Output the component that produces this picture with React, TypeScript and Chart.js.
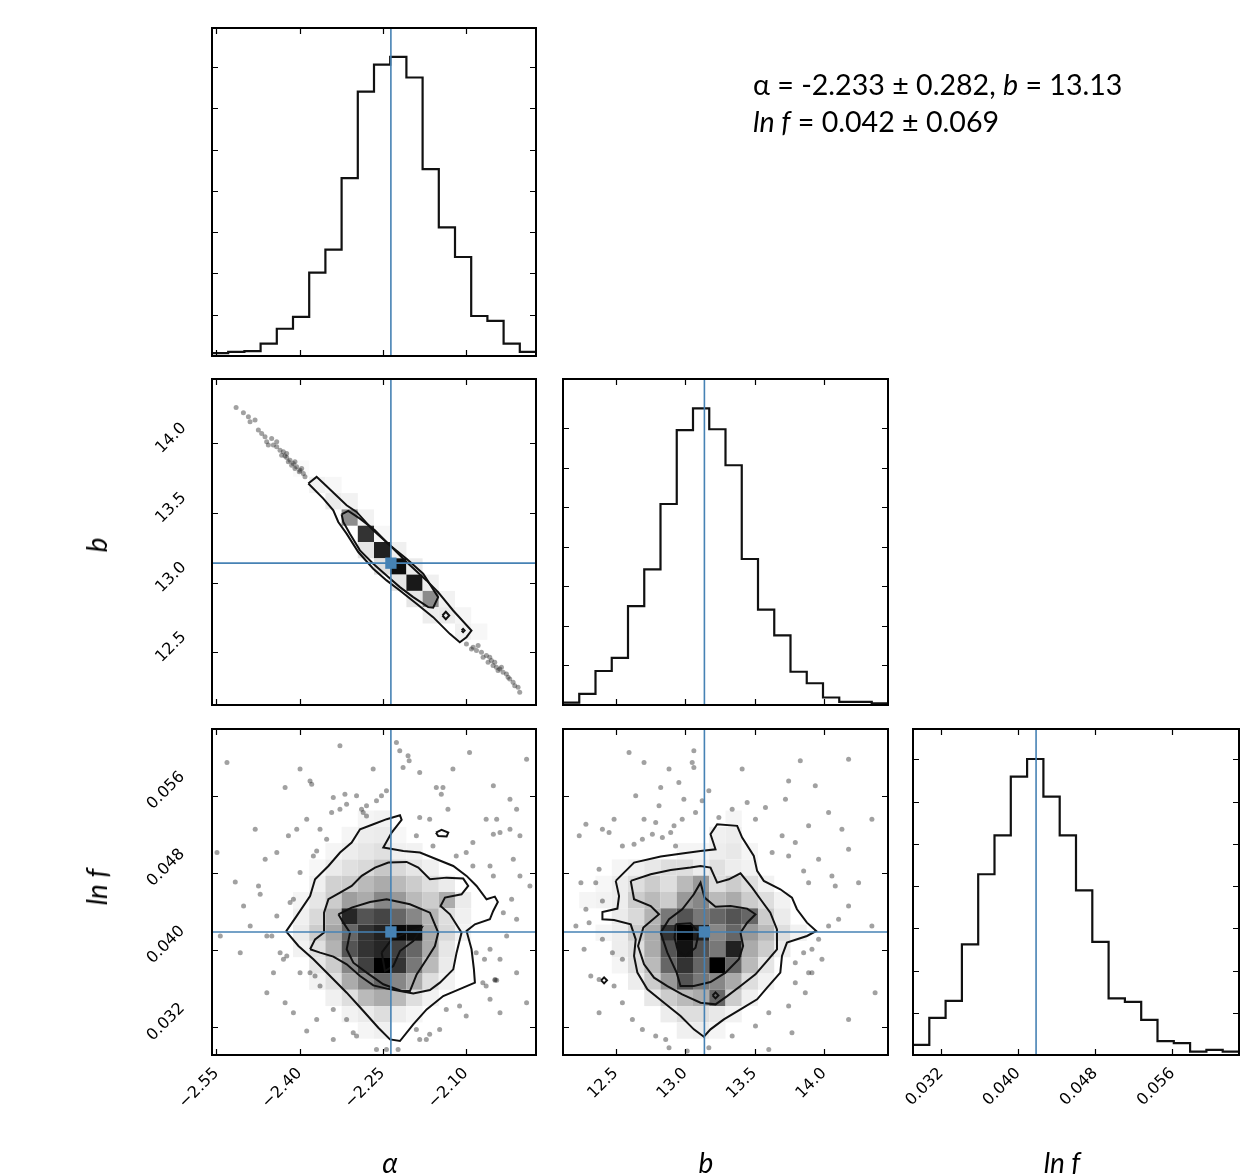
import React, { useEffect, useRef } from "react";
import { Chart, registerables } from "chart.js";
Chart.register(...registerables);

const W = 1257;
const H = 1174;
const NBINS = 20;
const Y_AXIS_W = 110;
const X_AXIS_H = 80;

// ---------- axes ----------
const alphaRange = [-2.558, -1.973];
const bRange = [12.12, 14.462];
const lnfRange = [0.0291, 0.0629];

const alphaTicks = [-2.55, -2.4, -2.25, -2.1];
const bTicks = [12.5, 13.0, 13.5, 14.0];
const lnfTicks = [0.032, 0.04, 0.048, 0.056];
const countTicks = [100, 200, 300, 400, 500, 600, 700];

const alphaTruth = -2.235;
const bTruth = 13.139;
const lnfTruth = 0.04186;

// ---------- 1D histograms (20 bins over the axis range) ----------
const alphaCounts = [7, 10, 12, 30, 66, 95, 202, 258, 431, 641, 706, 725, 675, 453, 312, 240, 97, 85, 30, 10];
const alphaCountMax = 795;
const bCounts = [6, 28, 86, 119, 250, 343, 508, 695, 750, 697, 606, 369, 241, 176, 84, 55, 19, 8, 8, 4];
const bCountMax = 824;
const lnfCounts = [24, 88, 128, 262, 428, 520, 659, 701, 612, 520, 390, 268, 134, 126, 83, 33, 28, 8, 12, 8];
const lnfCountMax = 772;

// ---------- 2D histograms: [xBin, yBin (from bottom), density 0..1] ----------
const cellsAlphaB = [
  [5, 14, 0.02], [6, 13, 0.05], [7, 13, 0.03], [7, 12, 0.08], [8, 12, 0.05], [8, 11, 0.45], [9, 11, 0.05],
  [9, 10, 0.8], [10, 10, 0.03], [9, 9, 0.1], [10, 9, 0.87], [11, 9, 0.06], [10, 8, 0.12], [11, 8, 0.95],
  [12, 8, 0.08], [11, 7, 0.1], [12, 7, 0.9], [13, 7, 0.06], [12, 6, 0.1], [13, 6, 0.45], [14, 6, 0.05],
  [13, 5, 0.07], [14, 5, 0.08], [15, 5, 0.04], [15, 4, 0.06], [16, 4, 0.03],
];

const cellsAlphaLnf = [
  [9, 14, 0.04], [10, 14, 0.05],
  [8, 13, 0.04], [9, 13, 0.07], [10, 13, 0.08], [11, 13, 0.03],
  [7, 12, 0.04], [8, 12, 0.07], [9, 12, 0.1], [10, 12, 0.12], [11, 12, 0.06], [12, 12, 0.05],
  [6, 11, 0.03], [7, 11, 0.08], [8, 11, 0.12], [9, 11, 0.15], [10, 11, 0.22], [11, 11, 0.15], [12, 11, 0.1], [13, 11, 0.06],
  [6, 10, 0.06], [7, 10, 0.18], [8, 10, 0.2], [9, 10, 0.27], [10, 10, 0.33], [11, 10, 0.27], [12, 10, 0.2], [13, 10, 0.13], [14, 10, 0.08],
  [5, 9, 0.04], [6, 9, 0.1], [7, 9, 0.2], [8, 9, 0.38], [9, 9, 0.33], [10, 9, 0.47], [11, 9, 0.4], [12, 9, 0.27], [13, 9, 0.2], [14, 9, 0.33], [15, 9, 0.08],
  [5, 8, 0.06], [6, 8, 0.15], [7, 8, 0.3], [8, 8, 0.85], [9, 8, 0.67], [10, 8, 0.73], [11, 8, 0.6], [12, 8, 0.47], [13, 8, 0.3], [14, 8, 0.13], [15, 8, 0.06],
  [5, 7, 0.08], [6, 7, 0.2], [7, 7, 0.35], [8, 7, 0.6], [9, 7, 0.8], [10, 7, 0.87], [11, 7, 0.97], [12, 7, 0.95], [13, 7, 0.33], [14, 7, 0.15], [15, 7, 0.05],
  [5, 6, 0.05], [6, 6, 0.12], [7, 6, 0.3], [8, 6, 0.67], [9, 6, 0.8], [10, 6, 0.85], [11, 6, 0.75], [12, 6, 0.6], [13, 6, 0.33], [14, 6, 0.1],
  [6, 5, 0.1], [7, 5, 0.2], [8, 5, 0.47], [9, 5, 0.75], [10, 5, 1.0], [11, 5, 0.8], [12, 5, 0.53], [13, 5, 0.27], [14, 5, 0.08],
  [6, 4, 0.05], [7, 4, 0.12], [8, 4, 0.33], [9, 4, 0.47], [10, 4, 0.6], [11, 4, 0.47], [12, 4, 0.33], [13, 4, 0.13], [14, 4, 0.05],
  [7, 3, 0.06], [8, 3, 0.13], [9, 3, 0.27], [10, 3, 0.33], [11, 3, 0.27], [12, 3, 0.13], [13, 3, 0.05],
  [8, 2, 0.05], [9, 2, 0.08], [10, 2, 0.13], [11, 2, 0.07], [12, 2, 0.04],
  [9, 1, 0.04], [10, 1, 0.06],
];

const cellsBLnf = [
  [10, 14, 0.04],
  [9, 13, 0.06], [10, 13, 0.07],
  [7, 12, 0.04], [8, 12, 0.04], [9, 12, 0.07], [10, 12, 0.09], [11, 12, 0.04],
  [3, 11, 0.04], [4, 11, 0.06], [5, 11, 0.09], [6, 11, 0.13], [7, 11, 0.13], [8, 11, 0.07], [9, 11, 0.12], [10, 11, 0.07], [11, 11, 0.05],
  [2, 10, 0.03], [3, 10, 0.07], [4, 10, 0.13], [5, 10, 0.2], [6, 10, 0.13], [7, 10, 0.27], [8, 10, 0.4], [9, 10, 0.13], [10, 10, 0.2], [11, 10, 0.13], [12, 10, 0.05],
  [1, 9, 0.04], [2, 9, 0.05], [3, 9, 0.07], [4, 9, 0.2], [5, 9, 0.27], [6, 9, 0.2], [7, 9, 0.4], [8, 9, 0.47], [9, 9, 0.27], [10, 9, 0.33], [11, 9, 0.2], [12, 9, 0.13], [13, 9, 0.05],
  [3, 8, 0.08], [4, 8, 0.15], [5, 8, 0.3], [6, 8, 0.53], [7, 8, 0.67], [8, 8, 0.53], [9, 8, 0.6], [10, 8, 0.67], [11, 8, 0.6], [12, 8, 0.2], [13, 8, 0.08],
  [2, 7, 0.04], [3, 7, 0.07], [4, 7, 0.2], [5, 7, 0.33], [6, 7, 0.8], [7, 7, 1.0], [8, 7, 0.87], [9, 7, 0.47], [10, 7, 0.6], [11, 7, 0.4], [12, 7, 0.27], [13, 7, 0.13], [14, 7, 0.05],
  [3, 6, 0.07], [4, 6, 0.13], [5, 6, 0.33], [6, 6, 0.67], [7, 6, 0.93], [8, 6, 0.67], [9, 6, 0.53], [10, 6, 0.87], [11, 6, 0.33], [12, 6, 0.2], [13, 6, 0.07],
  [3, 5, 0.04], [4, 5, 0.13], [5, 5, 0.27], [6, 5, 0.6], [7, 5, 0.8], [8, 5, 0.6], [9, 5, 1.0], [10, 5, 0.6], [11, 5, 0.27], [12, 5, 0.1],
  [4, 4, 0.07], [5, 4, 0.2], [6, 4, 0.4], [7, 4, 0.67], [8, 4, 0.53], [9, 4, 0.47], [10, 4, 0.33], [11, 4, 0.13], [12, 4, 0.05],
  [5, 3, 0.09], [6, 3, 0.2], [7, 3, 0.27], [8, 3, 0.33], [9, 3, 0.6], [10, 3, 0.2], [11, 3, 0.06],
  [6, 2, 0.07], [7, 2, 0.13], [8, 2, 0.13], [9, 2, 0.09], [10, 2, 0.05],
  [7, 1, 0.06], [8, 1, 0.07], [9, 1, 0.04],
];

// ---------- contours ----------
const contourAlphaBOuter = [
  [-2.3841, 13.711], [-2.3691, 13.759], [-2.351, 13.692], [-2.315, 13.555], [-2.2969, 13.507], [-2.2669, 13.375],
  [-2.2368, 13.267], [-2.2068, 13.147], [-2.1707, 13.015], [-2.1497, 12.931], [-2.1226, 12.799], [-2.0895, 12.655],
  [-2.0986, 12.607], [-2.1106, 12.571], [-2.1286, 12.631], [-2.1587, 12.751], [-2.1887, 12.847], [-2.2188, 12.943],
  [-2.2428, 13.015], [-2.2669, 13.099], [-2.2939, 13.219], [-2.315, 13.351], [-2.33, 13.435], [-2.339, 13.519], [-2.357, 13.603],
];
const contourAlphaBInner = [
  [-2.324, 13.49], [-2.312, 13.514], [-2.2909, 13.459], [-2.2639, 13.375], [-2.2368, 13.267], [-2.2068, 13.171],
  [-2.1767, 13.063], [-2.1497, 12.895], [-2.1587, 12.819], [-2.1677, 12.823], [-2.1947, 12.895], [-2.2188, 12.967],
  [-2.2428, 13.051], [-2.2669, 13.135], [-2.2909, 13.231], [-2.309, 13.351], [-2.321, 13.435],
];
const contourAlphaBLoopA = [[-2.142, 12.763], [-2.1358, 12.79], [-2.1296, 12.763], [-2.1358, 12.736]];
const contourAlphaBLoopB = [[-2.1073, 12.655], [-2.1046, 12.666], [-2.1019, 12.655], [-2.1046, 12.644]];

const contourAlphaLnfOuter = [
  [-2.4242, 0.04192], [-2.405, 0.04352], [-2.3809, 0.04559], [-2.3719, 0.04732], [-2.3478, 0.0487], [-2.3268, 0.05009],
  [-2.3058, 0.05113], [-2.2907, 0.05251], [-2.2667, 0.05303], [-2.2426, 0.05355], [-2.2186, 0.05396], [-2.2156, 0.05348],
  [-2.2336, 0.05216], [-2.2487, 0.05061], [-2.2126, 0.05026], [-2.1825, 0.05009], [-2.1525, 0.0494], [-2.1224, 0.0487],
  [-2.0984, 0.04767], [-2.0803, 0.04663], [-2.0623, 0.04525], [-2.0473, 0.04552], [-2.0419, 0.04497], [-2.0503, 0.04403],
  [-2.0563, 0.04317], [-2.0833, 0.04265], [-2.0984, 0.04196], [-2.0894, 0.04006], [-2.0851, 0.03798], [-2.0833, 0.0366],
  [-2.1044, 0.03608], [-2.1405, 0.03521], [-2.1705, 0.03383], [-2.1946, 0.03227], [-2.2186, 0.03055], [-2.2366, 0.03072],
  [-2.2577, 0.03193], [-2.2847, 0.03366], [-2.3148, 0.03556], [-2.3448, 0.03729], [-2.3749, 0.03902], [-2.4019, 0.0404],
];
const contourAlphaLnfMiddle = [
  [-2.3809, 0.04006], [-2.3719, 0.04109], [-2.3557, 0.04179], [-2.3557, 0.04386], [-2.3478, 0.04525], [-2.3268, 0.04594],
  [-2.3058, 0.04663], [-2.2877, 0.04767], [-2.2637, 0.04853], [-2.2396, 0.04905], [-2.2066, 0.04912], [-2.1855, 0.04853],
  [-2.1645, 0.04732], [-2.1344, 0.04749], [-2.1044, 0.04739], [-2.0954, 0.04663], [-2.1074, 0.04576], [-2.1374, 0.04542],
  [-2.1453, 0.04455], [-2.1284, 0.04369], [-2.1074, 0.04179], [-2.1164, 0.03971], [-2.1224, 0.03798], [-2.1465, 0.0366],
  [-2.1645, 0.03584], [-2.1946, 0.03549], [-2.2186, 0.03573], [-2.2426, 0.03598], [-2.2667, 0.03632], [-2.2907, 0.03729],
  [-2.3148, 0.0385], [-2.3388, 0.0393], [-2.3629, 0.03971],
];
const contourAlphaLnfInner = [
  [-2.3298, 0.04369], [-2.3058, 0.04438], [-2.2727, 0.04497], [-2.2426, 0.04525], [-2.2006, 0.04473], [-2.1645, 0.04386],
  [-2.1495, 0.04179], [-2.1555, 0.0404], [-2.1705, 0.03902], [-2.1885, 0.03746], [-2.2006, 0.03573], [-2.2156, 0.03573],
  [-2.2487, 0.03643], [-2.2787, 0.03764], [-2.3028, 0.03867], [-2.3148, 0.04006], [-2.3088, 0.04179], [-2.3208, 0.04282],
];
const contourAlphaLnfCore = [
  [-2.2517, 0.03971], [-2.2336, 0.04109], [-2.2066, 0.04179], [-2.1795, 0.04231], [-2.1946, 0.04092], [-2.2186, 0.03988],
  [-2.2306, 0.03833], [-2.2457, 0.03781],
];
const contourAlphaLnfLoop = [[-2.1537, 0.05216], [-2.1435, 0.05244], [-2.1314, 0.05216], [-2.1344, 0.05175], [-2.1495, 0.05181]];

const contourBLnfOuter = [
  [12.5, 0.04715], [12.632, 0.04905], [12.824, 0.04967], [12.991, 0.05002], [13.111, 0.05026], [13.219, 0.05043],
  [13.183, 0.05199], [13.231, 0.05303], [13.375, 0.05286], [13.411, 0.05164], [13.495, 0.04974], [13.519, 0.04819],
  [13.567, 0.04715], [13.686, 0.04628], [13.77, 0.04542], [13.806, 0.04421], [13.878, 0.04282], [13.945, 0.04196],
  [13.878, 0.04144], [13.734, 0.04075], [13.698, 0.03937], [13.686, 0.03764], [13.591, 0.03608], [13.519, 0.03487],
  [13.399, 0.03383], [13.279, 0.03279], [13.183, 0.03176], [13.135, 0.03099], [13.063, 0.03176], [12.967, 0.03314],
  [12.848, 0.03452], [12.728, 0.03591], [12.656, 0.03764], [12.632, 0.03937], [12.644, 0.04109], [12.608, 0.04265],
  [12.488, 0.0431], [12.404, 0.04317], [12.404, 0.04393], [12.512, 0.04428], [12.524, 0.04559],
];
const contourBLnfMiddle = [
  [12.608, 0.04715], [12.752, 0.04784], [12.896, 0.04829], [13.039, 0.04853], [13.111, 0.0487], [13.183, 0.04853],
  [13.231, 0.04697], [13.315, 0.04732], [13.399, 0.04794], [13.483, 0.04646], [13.543, 0.04525], [13.614, 0.04386],
  [13.662, 0.04213], [13.662, 0.04006], [13.591, 0.03885], [13.507, 0.03746], [13.399, 0.03625], [13.303, 0.03521],
  [13.219, 0.03435], [13.111, 0.03452], [12.979, 0.03539], [12.872, 0.03625], [12.776, 0.03712], [12.704, 0.0385],
  [12.661, 0.0404], [12.699, 0.04231], [12.812, 0.04369], [12.752, 0.04455], [12.632, 0.04525],
];
const contourBLnfInner = [
  [12.824, 0.04179], [12.884, 0.04317], [12.979, 0.04421], [13.063, 0.04576], [13.111, 0.04697], [13.14, 0.04542],
  [13.219, 0.04448], [13.327, 0.04455], [13.447, 0.04428], [13.507, 0.04369], [13.447, 0.04282], [13.399, 0.04179],
  [13.418, 0.0404], [13.387, 0.03902], [13.291, 0.03764], [13.183, 0.03667], [13.063, 0.03625], [12.967, 0.03625],
  [12.939, 0.03764], [12.872, 0.03971],
];
const contourBLnfCore = [
  [12.932, 0.04265], [13.039, 0.04276], [13.099, 0.04179], [13.075, 0.04023], [13.003, 0.03937], [12.948, 0.03988], [12.924, 0.04127],
];
const contourBLnfLoopA = [[12.395, 0.03684], [12.416, 0.03715], [12.437, 0.03684], [12.416, 0.03653]];
const contourBLnfLoopB = [[13.198, 0.03528], [13.219, 0.03559], [13.24, 0.03528], [13.219, 0.03497]];

// ---------- scatter samples outside the contours ----------
const pointsAlphaB = [
  [-2.5145, 14.258], [-2.5013, 14.22], [-2.4893, 14.155], [-2.4803, 14.167], [-2.4743, 14.095], [-2.4683, 14.071],
  [-2.4623, 14.047], [-2.4593, 14.011], [-2.4563, 13.987], [-2.4503, 14.035], [-2.4472, 13.987], [-2.4412, 14.011],
  [-2.4412, 13.975], [-2.4352, 13.951], [-2.4322, 13.915], [-2.4292, 13.939], [-2.4262, 13.908], [-2.4232, 13.898],
  [-2.4202, 13.867], [-2.4172, 13.879], [-2.4142, 13.843], [-2.4112, 13.855], [-2.4082, 13.819], [-2.4052, 13.831],
  [-2.4004, 13.795], [-2.3991, 13.807], [-2.3961, 13.819], [-2.3931, 13.783], [-2.3901, 13.759], [-2.4923, 14.191],
  [-2.4232, 13.927], [-2.4082, 13.867],
  [-2.0986, 12.559], [-2.0895, 12.523], [-2.0865, 12.535], [-2.0805, 12.511], [-2.0775, 12.547], [-2.0715, 12.499],
  [-2.0685, 12.463], [-2.0625, 12.475], [-2.0595, 12.427], [-2.0565, 12.463], [-2.0535, 12.439], [-2.0505, 12.403],
  [-2.0475, 12.427], [-2.0445, 12.391], [-2.0415, 12.367], [-2.0384, 12.379], [-2.0354, 12.391], [-2.0324, 12.355],
  [-2.0264, 12.343], [-2.0234, 12.319], [-2.0204, 12.307], [-2.0144, 12.283], [-2.0114, 12.259], [-2.0054, 12.247],
  [-2.0024, 12.211],
];

const pointsAlphaLnf = [
  [-2.426, 0.05683], [-2.381, 0.05752], [-2.378, 0.05718], [-2.42, 0.05182], [-2.516, 0.04704], [-2.474, 0.04663],
  [-2.471, 0.04576], [-2.48, 0.05251], [-2.462, 0.0494], [-2.441, 0.05009], [-2.405, 0.05251], [-2.369, 0.05026],
  [-2.375, 0.04974], [-2.399, 0.04801], [-2.417, 0.0449], [-2.411, 0.04525], [-2.441, 0.04352], [-2.459, 0.04144],
  [-2.45, 0.04144], [-2.435, 0.03971], [-2.423, 0.03937], [-2.429, 0.03902], [-2.381, 0.03764], [-2.372, 0.03729],
  [-2.387, 0.03158], [-2.303, 0.03141], [-2.297, 0.03106], [-2.243, 0.05649], [-2.252, 0.05597], [-2.261, 0.05545],
  [-2.279, 0.05493], [-2.288, 0.05458], [-2.285, 0.05424], [-2.297, 0.05597], [-2.318, 0.05614], [-2.339, 0.0558],
  [-2.315, 0.0551], [-2.327, 0.05458], [-2.342, 0.05424], [-2.219, 0.06064], [-2.204, 0.06012], [-2.202, 0.0596],
  [-2.213, 0.05891], [-2.225, 0.0615], [-2.165, 0.05355], [-2.183, 0.05372], [-2.153, 0.05683], [-2.141, 0.05683],
  [-2.144, 0.05614], [-2.132, 0.05458], [-2.093, 0.06046], [-2.063, 0.05355], [-2.044, 0.05355], [-2.02, 0.05562],
  [-2.008, 0.05458], [-2.002, 0.05182], [-2.02, 0.05251], [-2.038, 0.05216], [-2.05, 0.05199], [-2.087, 0.05113],
  [-2.099, 0.05009], [-2.056, 0.0487], [-2.014, 0.0494], [-2.05, 0.04767], [-2.017, 0.04525], [-2.032, 0.04386],
  [-2.056, 0.04006], [-2.081, 0.03971], [-2.066, 0.03902], [-2.069, 0.0366], [-2.063, 0.03625], [-2.047, 0.03694],
  [-2.044, 0.03684], [-2.047, 0.03684], [-2.038, 0.03348], [-2.189, 0.03175], [-2.183, 0.03072], [-2.171, 0.03072],
  [-2.165, 0.03124], [-2.135, 0.03383], [-2.111, 0.03418], [-2.222, 0.02968], [-2.243, 0.02968], [-2.315, 0.03279],
  [-2.339, 0.03383], [-2.411, 0.03348], [-2.426, 0.03452], [-2.363, 0.03625], [-2.399, 0.03764], [-2.447, 0.03764],
  [-2.507, 0.03971], [-2.489, 0.04248], [-2.387, 0.05355], [-2.363, 0.05251], [-2.351, 0.05147], [-2.279, 0.05389],
  [-2.189, 0.05182], [-2.159, 0.05078], [-2.117, 0.04974], [-2.087, 0.0487], [-2.008, 0.04317], [-2.002, 0.04767],
  [-2.026, 0.04144], [-2.038, 0.03902], [-2.008, 0.03764], [-2.056, 0.03487], [-2.099, 0.03314], [-2.147, 0.03175],
  [-2.261, 0.02968], [-2.339, 0.03072], [-2.369, 0.03279], [-2.459, 0.03556], [-2.501, 0.04455], [-2.543, 0.04144],
  [-2.549, 0.05009], [-2.531, 0.05943], [-2.327, 0.06116], [-2.399, 0.05874], [-2.183, 0.05839], [-2.123, 0.05874],
  [-2.267, 0.05874], [-2.05, 0.05701], [-1.99, 0.05977], [-1.984, 0.04663], [-1.99, 0.03452],
];

const pointsBLnf = [
  [13.063, 0.06064], [13.051, 0.05943], [13.063, 0.05891], [12.955, 0.05735], [12.824, 0.05683], [12.991, 0.05562],
  [12.812, 0.05493], [12.596, 0.06046], [12.704, 0.05943], [12.884, 0.05874], [13.83, 0.0596], [13.938, 0.05701],
  [13.746, 0.05752], [13.723, 0.05562], [13.579, 0.05476], [13.507, 0.05355], [13.447, 0.05528], [13.339, 0.05458],
  [13.243, 0.05372], [13.171, 0.05649], [13.123, 0.05545], [13.075, 0.05424], [12.979, 0.05355], [12.92, 0.05286],
  [12.788, 0.0532], [12.704, 0.05355], [12.488, 0.05355], [12.452, 0.05216], [12.404, 0.05251], [12.285, 0.05303],
  [12.237, 0.05182], [12.548, 0.05078], [12.632, 0.05095], [12.692, 0.05147], [12.764, 0.05199], [12.836, 0.05164],
  [12.896, 0.05216], [12.931, 0.05078], [12.38, 0.04836], [12.356, 0.04697], [12.249, 0.04697], [12.404, 0.04507],
  [12.285, 0.04421], [12.308, 0.04282], [12.404, 0.04109], [12.476, 0.03971], [12.548, 0.03902], [12.272, 0.04006],
  [12.32, 0.03729], [12.38, 0.03348], [12.488, 0.03625], [12.548, 0.03452], [12.62, 0.03279], [12.692, 0.03175],
  [12.788, 0.03106], [12.86, 0.03072], [12.884, 0.02985], [13.015, 0.02951], [13.171, 0.02985], [13.339, 0.03106],
  [13.507, 0.0321], [13.603, 0.03348], [13.746, 0.03418], [13.77, 0.03141], [13.866, 0.03556], [13.89, 0.03764],
  [13.986, 0.03902], [13.962, 0.04109], [14.034, 0.04248], [14.106, 0.04317], [14.178, 0.04455], [14.082, 0.04663],
  [14.058, 0.04767], [13.89, 0.04697], [13.854, 0.04819], [13.962, 0.0494], [13.746, 0.04974], [13.627, 0.05009],
  [13.699, 0.05182], [13.794, 0.05113], [13.89, 0.05286], [14.034, 0.05424], [14.13, 0.05251], [14.178, 0.05043],
  [14.25, 0.04697], [14.346, 0.04248], [13.794, 0.03867], [13.854, 0.03971], [13.914, 0.04006], [13.914, 0.03764],
  [13.794, 0.0366], [12.38, 0.03694], [12.213, 0.04248], [12.644, 0.05597], [13.411, 0.05874], [14.178, 0.05977],
  [14.346, 0.05355], [14.369, 0.03556], [14.178, 0.03279], [13.603, 0.02968],
];

// ---------- styling ----------
const TRUTH = "#4682b4";
const TICK_FONT = { family: "'DejaVu Sans', sans-serif", size: 16 };
const fmtAlpha = (v: number) => (v < 0 ? "\u2212" : "") + Math.abs(v).toFixed(2);
const fmtB = (v: number) => v.toFixed(1);
const fmtLnf = (v: number) => v.toFixed(3);
const fmtNone = (v: number) => String(v);

type AxisSpec = { range: number[]; ticks: number[]; fmt: (v: number) => string; labels: boolean };

function xAxis(a: AxisSpec) {
  return {
    type: "linear",
    min: a.range[0],
    max: a.range[1],
    afterBuildTicks: (s: any) => {
      s.ticks = a.ticks.map((v) => ({ value: v }));
    },
    afterFit: (s: any) => {
      s.height = X_AXIS_H;
    },
    grid: { display: false, drawTicks: false },
    border: { display: false },
    ticks: {
      display: a.labels,
      autoSkip: false,
      minRotation: 45,
      maxRotation: 45,
      padding: 9,
      color: "#000",
      font: TICK_FONT,
      callback: (v: any) => a.fmt(Number(v)),
    },
  };
}

function yAxis(a: AxisSpec) {
  return {
    type: "linear",
    min: a.range[0],
    max: a.range[1],
    afterBuildTicks: (s: any) => {
      s.ticks = a.ticks.map((v) => ({ value: v }));
    },
    afterFit: (s: any) => {
      s.width = Y_AXIS_W;
    },
    grid: { display: false, drawTicks: false },
    border: { display: false },
    ticks: {
      display: a.labels,
      autoSkip: false,
      minRotation: 45,
      maxRotation: 45,
      crossAlign: "center",
      padding: 23,
      labelOffset: -5,
      color: "#000",
      font: TICK_FONT,
      callback: (v: any) => a.fmt(Number(v)),
    },
  };
}

const framePlugin = {
  id: "cornerFrame",
  afterDraw(chart: any) {
    const { ctx, chartArea } = chart;
    const { left, top, right, bottom } = chartArea;
    const len = 6;
    const xs = chart.scales.x;
    const ys = chart.scales.y;
    ctx.save();
    ctx.strokeStyle = "#000";
    ctx.lineWidth = 1.2;
    ctx.beginPath();
    for (const t of xs.ticks) {
      const p = Math.round(xs.getPixelForValue(t.value)) + 0.5;
      ctx.moveTo(p, bottom);
      ctx.lineTo(p, bottom - len);
      ctx.moveTo(p, top);
      ctx.lineTo(p, top + len);
    }
    for (const t of ys.ticks) {
      const p = Math.round(ys.getPixelForValue(t.value)) + 0.5;
      ctx.moveTo(left, p);
      ctx.lineTo(left + len, p);
      ctx.moveTo(right, p);
      ctx.lineTo(right - len, p);
    }
    ctx.stroke();
    ctx.lineWidth = 2;
    ctx.strokeRect(left, top, right - left, bottom - top);
    ctx.restore();
  },
};

function cellsPlugin(cells: number[][] | null, xr: number[], yr: number[]) {
  return {
    id: "hist2dCells",
    beforeDatasetsDraw(chart: any) {
      if (!cells) return;
      const { ctx } = chart;
      const xs = chart.scales.x;
      const ys = chart.scales.y;
      const dx = (xr[1] - xr[0]) / NBINS;
      const dy = (yr[1] - yr[0]) / NBINS;
      ctx.save();
      for (const [i, j, d] of cells) {
        const x0 = xs.getPixelForValue(xr[0] + i * dx);
        const x1 = xs.getPixelForValue(xr[0] + (i + 1) * dx);
        const y0 = ys.getPixelForValue(yr[0] + j * dy);
        const y1 = ys.getPixelForValue(yr[0] + (j + 1) * dy);
        const g = Math.round(255 * (1 - d));
        ctx.fillStyle = `rgb(${g},${g},${g})`;
        ctx.fillRect(x0, y1, x1 - x0, y0 - y1);
      }
      ctx.restore();
    },
  };
}

const toXY = (pts: number[][]) => pts.map(([x, y]) => ({ x, y }));
const closed = (pts: number[][]) => [...pts, pts[0]];

function lineDs(pts: number[][], color: string, width: number, order: number, extra: any = {}) {
  return {
    data: toXY(pts),
    showLine: true,
    borderColor: color,
    backgroundColor: color,
    borderWidth: width,
    pointRadius: 0,
    fill: false,
    tension: 0,
    order,
    ...extra,
  };
}

function pointsDs(pts: number[][]) {
  return {
    data: toXY(pts),
    showLine: false,
    pointRadius: 2.5,
    pointBorderWidth: 0,
    backgroundColor: "rgba(30,30,30,0.42)",
    borderColor: "rgba(30,30,30,0.42)",
    order: 10,
  };
}

function contourDs(pts: number[][]) {
  return lineDs(closed(pts), "#111", 2, 5);
}

function histDs(counts: number[], range: number[]) {
  const w = (range[1] - range[0]) / counts.length;
  const pts = counts.map((c, i) => [range[0] + i * w, c]);
  pts.push([range[1], counts[counts.length - 1]]);
  return lineDs(pts, "#111", 2.2, 5, { stepped: true });
}

function truthV(x: number, yr: number[]) {
  return lineDs([[x, yr[0]], [x, yr[1]]], TRUTH, 1.6, 2);
}
function truthH(y: number, xr: number[]) {
  return lineDs([[xr[0], y], [xr[1], y]], TRUTH, 1.6, 2);
}
function marker(x: number, y: number) {
  return {
    data: [{ x, y }],
    showLine: false,
    pointStyle: "rect",
    pointRadius: 8,
    pointBorderWidth: 0,
    backgroundColor: TRUTH,
    borderColor: TRUTH,
    order: 1,
  };
}

const COLS = [
  [212, 536],
  [563, 888],
  [913, 1239],
];
const ROWS = [
  [28, 356],
  [379, 705],
  [729, 1055],
];

type Panel = {
  col: number;
  row: number;
  x: AxisSpec;
  y: AxisSpec;
  cells: number[][] | null;
  datasets: any[];
};

const alphaAx = (labels: boolean): AxisSpec => ({ range: alphaRange, ticks: alphaTicks, fmt: fmtAlpha, labels });
const bAx = (labels: boolean): AxisSpec => ({ range: bRange, ticks: bTicks, fmt: fmtB, labels });
const lnfAx = (labels: boolean): AxisSpec => ({ range: lnfRange, ticks: lnfTicks, fmt: fmtLnf, labels });
const countAx = (max: number): AxisSpec => ({ range: [0, max], ticks: countTicks, fmt: fmtNone, labels: false });

const PANELS: Panel[] = [
  {
    col: 0, row: 0, x: alphaAx(false), y: countAx(alphaCountMax), cells: null,
    datasets: [histDs(alphaCounts, alphaRange), truthV(alphaTruth, [0, alphaCountMax])],
  },
  {
    col: 0, row: 1, x: alphaAx(false), y: bAx(true), cells: cellsAlphaB,
    datasets: [
      pointsDs(pointsAlphaB),
      contourDs(contourAlphaBOuter),
      contourDs(contourAlphaBInner),
      contourDs(contourAlphaBLoopA),
      contourDs(contourAlphaBLoopB),
      truthV(alphaTruth, bRange),
      truthH(bTruth, alphaRange),
      marker(alphaTruth, bTruth),
    ],
  },
  {
    col: 1, row: 1, x: bAx(false), y: countAx(bCountMax), cells: null,
    datasets: [histDs(bCounts, bRange), truthV(bTruth, [0, bCountMax])],
  },
  {
    col: 0, row: 2, x: alphaAx(true), y: lnfAx(true), cells: cellsAlphaLnf,
    datasets: [
      pointsDs(pointsAlphaLnf),
      contourDs(contourAlphaLnfOuter),
      contourDs(contourAlphaLnfMiddle),
      contourDs(contourAlphaLnfInner),
      contourDs(contourAlphaLnfCore),
      contourDs(contourAlphaLnfLoop),
      truthV(alphaTruth, lnfRange),
      truthH(lnfTruth, alphaRange),
      marker(alphaTruth, lnfTruth),
    ],
  },
  {
    col: 1, row: 2, x: bAx(true), y: lnfAx(false), cells: cellsBLnf,
    datasets: [
      pointsDs(pointsBLnf),
      contourDs(contourBLnfOuter),
      contourDs(contourBLnfMiddle),
      contourDs(contourBLnfInner),
      contourDs(contourBLnfCore),
      contourDs(contourBLnfLoopA),
      contourDs(contourBLnfLoopB),
      truthV(bTruth, lnfRange),
      truthH(lnfTruth, bRange),
      marker(bTruth, lnfTruth),
    ],
  },
  {
    col: 2, row: 2, x: lnfAx(true), y: countAx(lnfCountMax), cells: null,
    datasets: [histDs(lnfCounts, lnfRange), truthV(lnfTruth, [0, lnfCountMax])],
  },
];

function buildConfig(p: Panel): any {
  const [l, r] = COLS[p.col];
  const [t, b] = ROWS[p.row];
  return {
    type: "scatter",
    data: { datasets: p.datasets },
    options: {
      responsive: false,
      animation: false,
      devicePixelRatio: 1,
      events: [],
      layout: { padding: { left: l - Y_AXIS_W, top: t, right: W - r, bottom: H - b - X_AXIS_H } },
      plugins: { legend: { display: false }, tooltip: { enabled: false }, title: { display: false } },
      scales: { x: xAxis(p.x), y: yAxis(p.y) },
    },
    plugins: [cellsPlugin(p.cells, p.x.range, p.y.range), framePlugin],
  };
}

const TITLE_FONT = "Lato, 'DejaVu Sans', sans-serif";

export default function App() {
  const refs = useRef<(HTMLCanvasElement | null)[]>([]);
  useEffect(() => {
    const charts = PANELS.map((p, i) => new Chart(refs.current[i] as HTMLCanvasElement, buildConfig(p)));
    return () => charts.forEach((c) => c.destroy());
  }, []);

  const axisTitle: React.CSSProperties = {
    position: "absolute",
    fontFamily: TITLE_FONT,
    fontStyle: "italic",
    fontSize: 28,
    lineHeight: 1,
    color: "#000",
    whiteSpace: "nowrap",
  };

  return (
    <div style={{ position: "absolute", left: 0, top: 0, width: W, height: H, background: "#fff", overflow: "hidden" }}>
      {PANELS.map((_, i) => (
        <canvas
          key={i}
          ref={(el) => {
            refs.current[i] = el;
          }}
          width={W}
          height={H}
          style={{ position: "absolute", left: 0, top: 0, width: W, height: H }}
        />
      ))}
      <div
        style={{
          position: "absolute",
          left: 753,
          top: 66,
          fontFamily: TITLE_FONT,
          fontSize: 28.6,
          lineHeight: "37px",
          color: "#000",
          whiteSpace: "nowrap",
        }}
      >
        <div>
          α = -2.233 ± 0.282, <i>b</i> = 13.13
        </div>
        <div>
          <i>ln f</i> = 0.042 ± 0.069
        </div>
      </div>
      <div style={{ ...axisTitle, left: 96, top: 545, transform: "translate(-50%, -50%) rotate(-90deg)" }}>b</div>
      <div style={{ ...axisTitle, left: 96, top: 887, transform: "translate(-50%, -50%) rotate(-90deg)" }}>ln f</div>
      <div style={{ ...axisTitle, left: 390, top: 1148, transform: "translateX(-50%)" }}>α</div>
      <div style={{ ...axisTitle, left: 706, top: 1148, transform: "translateX(-50%)" }}>b</div>
      <div style={{ ...axisTitle, left: 1062, top: 1148, transform: "translateX(-50%)" }}>ln f</div>
    </div>
  );
}
